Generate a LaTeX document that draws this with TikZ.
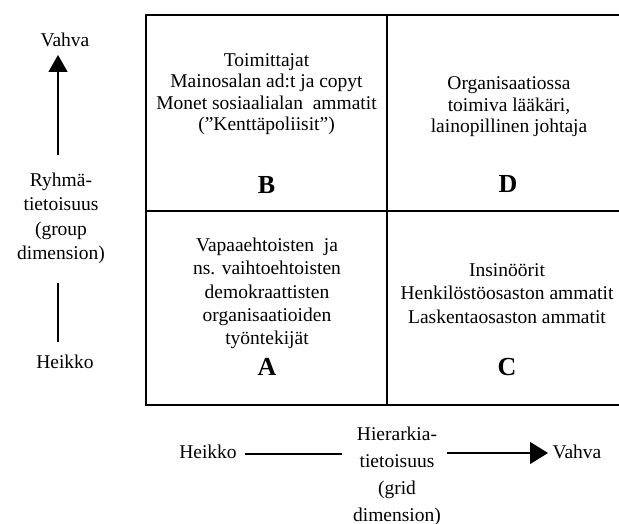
\documentclass[tikz,border=0pt]{standalone}
\usepackage{fontspec}
\setmainfont{Liberation Serif}
\usetikzlibrary{arrows.meta}
\begin{document}
\begin{tikzpicture}[x=1pt,y=-1pt,
  lbl/.style={font=\fontsize{19.5}{22}\selectfont, inner sep=0pt, align=center},
  celltext/.style={lbl},
  letter/.style={font=\fontsize{26}{28}\selectfont\bfseries, inner sep=0pt},
  gridline/.style={line width=1.6pt},
  axis/.style={line width=1.3pt},
  axisarrow/.style={axis, -{Triangle[length=17pt,width=19pt]}}]
\useasboundingbox (0,0) rectangle (619,524);

% the 2x2 grid (continues past the right edge)
\draw[gridline] (619,15) -- (146,15) -- (146,405) -- (619,405);
\draw[gridline] (146,211) -- (619,211);
\draw[gridline] (387,15) -- (387,405);

% cell contents
\node[celltext, font=\fontsize{19.5}{21.5}\selectfont] (tB) at (266.5,94)
  {Toimittajat\\Mainosalan ad:t ja copyt\\Monet sosiaalialan\ \ ammatit\\(”Kenttäpoliisit”)};
\node[letter] (B) at (266.5,185) {B};

\node[celltext, font=\fontsize{19.5}{21.5}\selectfont] (tD) at (509,107)
  {Organisaatiossa\\toimiva lääkäri,\\lainopillinen johtaja};
\node[letter] (D) at (508,184) {D};

\node[celltext, font=\fontsize{19.5}{23.3}\selectfont] (tA) at (267,293.5)
  {Vapaaehtoisten\ \ ja\\ns. vaihtoehtoisten\\demokraattisten\\organisaatioiden\\työntekijät};
\node[letter] (A) at (267,367) {A};

\node[celltext, font=\fontsize{19.5}{23.5}\selectfont] (tC) at (507,293.5)
  {Insinöörit\\Henkilöstöosaston ammatit\\Laskentaosaston ammatit};
\node[letter] (C) at (507,367) {C};

% vertical axis: group dimension
\node[lbl] (yhigh) at (65,40) {Vahva};
\node[lbl, font=\fontsize{19.5}{24.5}\selectfont] (ytitle) at (61,218.5)
  {Ryhmä-\\tietoisuus\\(group\\dimension)};
\node[lbl] (ylow) at (65,362) {Heikko};
\coordinate (yarrowfrom) at (58,155);
\coordinate (yarrowto) at (58,55);
\coordinate (ylinetop) at (58,283);
\coordinate (ylinebot) at (58,342);
\draw[axisarrow] (yarrowfrom) -- (yarrowto);
\draw[axis] (ylinetop) -- (ylinebot);

% horizontal axis: grid dimension
\node[lbl] (xlow) at (208,452) {Heikko};
\node[lbl, font=\fontsize{19.5}{27}\selectfont] (xtitle) at (397,476)
  {Hierarkia-\\tietoisuus\\(grid\\dimension)};
\node[lbl] (xhigh) at (577,452) {Vahva};
\coordinate (xlinefrom) at (245,454);
\coordinate (xlineto) at (342,454);
\coordinate (xarrowfrom) at (447,453);
\coordinate (xarrowto) at (548,453);
\draw[axis] (xlinefrom) -- (xlineto);
\draw[axis, -{Triangle[length=18pt,width=22pt]}] (xarrowfrom) -- (xarrowto);
\end{tikzpicture}
\end{document}
